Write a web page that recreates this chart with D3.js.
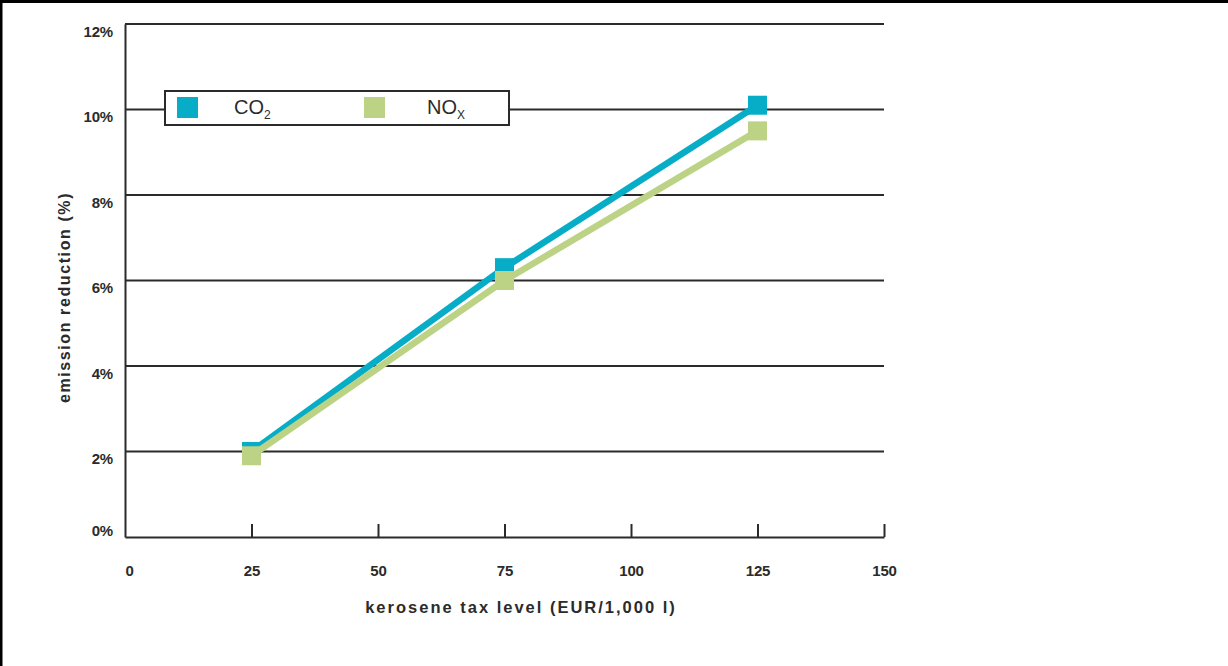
<!DOCTYPE html>
<html>
<head>
<meta charset="utf-8">
<script src="https://cdn.jsdelivr.net/npm/d3@7"></script>
<style>
  html, body { margin: 0; padding: 0; background: #fff; }
  svg { display: block; }
</style>
</head>
<body>
<svg id="chart" width="1228" height="666"></svg>
<script>
// Kerosene tax level (EUR per 1,000 litres) and resulting emission reductions (%)
const taxLevels = [25, 75, 125];
const co2Reduction = [2.0, 6.3, 10.1];
const noxReduction = [1.9, 6.0, 9.5];
const xTicks = [0, 25, 50, 75, 100, 125, 150];
const yTicks = [0, 2, 4, 6, 8, 10, 12];

const W = 1228, H = 666;
const plotLeft = 125, plotRight = 884, plotTop = 24, plotBottom = 537;
const ink = "#2b2b2b";
const co2Color = "#07adc6";
const noxColor = "#bcd386";
const font = "'Liberation Sans', Arial, sans-serif";

const svg = d3.select("#chart");

// frame round the figure
svg.append("rect").attr("x", 0).attr("y", 0).attr("width", W).attr("height", 3).attr("fill", "#000");
svg.append("rect").attr("x", 0).attr("y", 0).attr("width", 2.5).attr("height", H).attr("fill", "#000");

const x = d3.scaleLinear().domain([0, 150]).range([plotLeft, plotRight]);
const y = d3.scaleLinear().domain([0, 12]).range([plotBottom, plotTop]);

// horizontal grid lines
svg.append("g").selectAll("line").data(yTicks.filter(d => d > 0)).join("line")
  .attr("x1", plotLeft).attr("x2", plotRight)
  .attr("y1", d => y(d)).attr("y2", d => y(d))
  .attr("stroke", ink).attr("stroke-width", 1.8);

// y axis
const yAxis = svg.append("g").attr("transform", `translate(${plotLeft},0)`)
  .call(d3.axisLeft(y).tickValues(yTicks).tickSize(0).tickFormat(d => d + "%"));
yAxis.select(".domain").attr("stroke", ink).attr("stroke-width", 2);
yAxis.selectAll("text")
  .attr("x", -12)
  .attr("dy", d => d === 0 ? "-0.1em" : "0.8em")
  .attr("fill", ink)
  .style("font-family", font)
  .style("font-weight", "bold")
  .style("font-size", "15px")
  .style("letter-spacing", "-0.2px");

// x axis with short ticks pointing up
const xAxis = svg.append("g").attr("transform", `translate(0,${plotBottom})`)
  .call(d3.axisBottom(x).tickValues(xTicks).tickSizeInner(-13).tickSizeOuter(0).tickPadding(0));
xAxis.select(".domain").attr("stroke", ink).attr("stroke-width", 2);
xAxis.selectAll(".tick line").attr("stroke", ink).attr("stroke-width", 2)
  .attr("display", d => d === 0 ? "none" : null);
xAxis.selectAll("text")
  .attr("y", 34)
  .attr("dy", "0.35em")
  .attr("dx", d => d === 0 ? 4 : 0)
  .attr("fill", ink)
  .style("font-family", font)
  .style("font-weight", "bold")
  .style("font-size", "15px")
  .style("letter-spacing", "-0.2px");

// axis titles
svg.append("text")
  .attr("x", 521).attr("y", 613)
  .attr("text-anchor", "middle")
  .attr("fill", ink)
  .style("font-family", font)
  .style("font-weight", "bold").style("font-size", "16.5px").style("letter-spacing", "2px")
  .text("kerosene tax level (EUR/1,000 l)");

svg.append("text")
  .attr("transform", `translate(70,${(plotTop + plotBottom) / 2 + 17}) rotate(-90)`)
  .attr("text-anchor", "middle")
  .attr("fill", ink)
  .style("font-family", font)
  .style("font-weight", "bold").style("font-size", "16px").style("letter-spacing", "1.6px")
  .text("emission reduction (%)");

// data series
const series = [
  { name: "CO2", values: co2Reduction, color: co2Color },
  { name: "NOx", values: noxReduction, color: noxColor }
];
const line = d3.line().x(d => x(d[0])).y(d => y(d[1]));
const mark = 19;

series.forEach(s => {
  const pts = taxLevels.map((t, i) => [t, s.values[i]]);
  const g = svg.append("g");
  g.append("path").datum(pts)
    .attr("d", line)
    .attr("fill", "none")
    .attr("stroke", s.color)
    .attr("stroke-width", 6.5);
  g.selectAll("rect").data(pts).join("rect")
    .attr("x", d => x(d[0]) - mark / 2)
    .attr("y", d => y(d[1]) - mark / 2)
    .attr("width", mark).attr("height", mark)
    .attr("fill", s.color);
});

// legend
const legend = svg.append("g");
legend.append("rect")
  .attr("x", 165).attr("y", 91).attr("width", 344).attr("height", 34)
  .attr("fill", "#fff").attr("stroke", ink).attr("stroke-width", 2);

const legendItems = [
  { sq: 177, tx: 234, main: "CO", sub: "2", color: co2Color },
  { sq: 364, tx: 427, main: "NO", sub: "X", color: noxColor }
];
legendItems.forEach(it => {
  legend.append("rect")
    .attr("x", it.sq).attr("y", 97).attr("width", 21).attr("height", 21)
    .attr("fill", it.color);
  const t = legend.append("text")
    .attr("x", it.tx).attr("y", 114)
    .attr("fill", ink)
    .style("font-family", font)
    .style("font-size", "20px");
  t.append("tspan").text(it.main);
  t.append("tspan").attr("dy", 5).style("font-size", "12px").text(it.sub);
});
</script>
</body>
</html>
